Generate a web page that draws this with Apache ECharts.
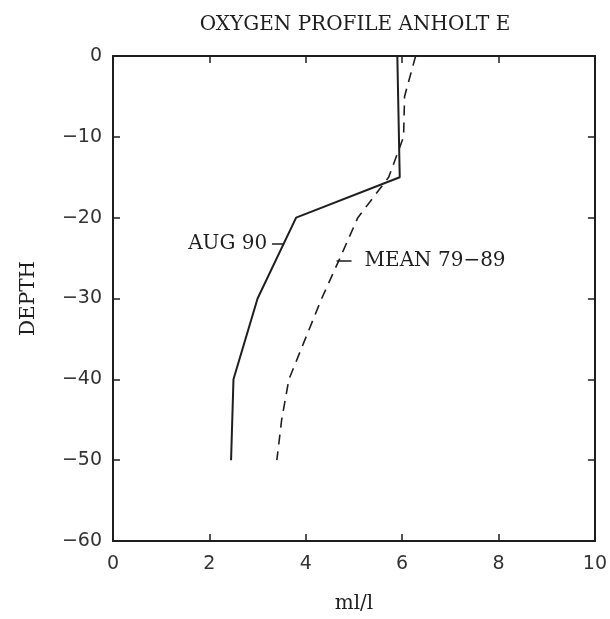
<!DOCTYPE html>
<html>
<head>
<meta charset="utf-8">
<title>Oxygen profile Anholt E</title>
<script src="https://cdn.jsdelivr.net/npm/echarts@6/dist/echarts.min.js"></script>
<style>
  html, body { margin: 0; padding: 0; background: #fff; }
  #chart { width: 610px; height: 619px; }
</style>
</head>
<body>
<div id="chart"></div>
<script>
// Oxygen (ml/l) against depth (m) at station Anholt E
const aug90Depth  = [0, -15, -20, -30, -40, -50];
const aug90Oxygen = [5.9, 5.95, 3.8, 3.0, 2.5, 2.45];

const meanDepth  = [0, -5, -10, -15, -20, -25, -30, -40, -45, -50];
const meanOxygen = [6.28, 6.05, 6.03, 5.72, 5.08, 4.71, 4.33, 3.65, 3.5, 3.4];

const xTicks = [0, 2, 4, 6, 8, 10];
const yTicks = [0, -10, -20, -30, -40, -50, -60];

// curve labels: text, anchor [oxygen, depth], leader line ends
const aug90Label = { text: 'AUG 90', at: [3.2, -23.2], leader: [[3.3, -23.2], [3.55, -23.2]] };
const meanLabel  = { text: 'MEAN 79\u221289', at: [5.22, -25.3], leader: [[4.64, -25.3], [4.95, -25.3]] };

const ink = '#1e1e1e';
const serif = 'DejaVu Serif';
const sans = 'DejaVu Sans';

function pairs(xs, ys) { return xs.map((x, i) => [x, ys[i]]); }
const fmtNum = v => (v < 0 ? '\u2212' + Math.abs(v) : String(v));

const axisLine = { show: true, onZero: false, lineStyle: { color: ink, width: 2 } };
const axisTick = { show: true, inside: true, length: 7, lineStyle: { color: ink, width: 1.5 } };

function curveLabel(lbl, side) {
  return {
    markPoint: {
      symbol: 'circle', symbolSize: 0, silent: true,
      data: [{ coord: lbl.at }],
      label: {
        show: true, position: side, distance: 0,
        formatter: lbl.text, color: ink, fontFamily: serif, fontSize: 20
      }
    },
    markLine: {
      symbol: 'none', silent: true,
      lineStyle: { color: ink, width: 1.5, type: 'solid' },
      label: { show: false },
      data: [[{ coord: lbl.leader[0] }, { coord: lbl.leader[1] }]]
    }
  };
}

const chart = echarts.init(document.getElementById('chart'), null, { renderer: 'canvas' });
chart.setOption({
  animation: false,
  backgroundColor: '#fff',
  title: {
    text: 'OXYGEN PROFILE ANHOLT E',
    left: 350, top: 10, textAlign: 'center',
    textStyle: { fontFamily: serif, fontSize: 20, fontWeight: 'normal', color: ink }
  },
  grid: { left: 113, right: 12, top: 56, bottom: 74 },
  xAxis: [
    {
      type: 'value', position: 'bottom', min: 0, max: 10, interval: 2,
      axisLine, axisTick, splitLine: { show: false },
      axisLabel: { show: true, margin: 14, fontFamily: sans, fontSize: 19, color: '#333', formatter: fmtNum,
                   customValues: xTicks },
      name: 'ml/l', nameLocation: 'middle', nameGap: 53,
      nameTextStyle: { fontFamily: serif, fontSize: 20, color: ink }
    },
    {
      type: 'value', position: 'top', min: 0, max: 10, interval: 2,
      axisLine, axisTick, splitLine: { show: false }, axisLabel: { show: false }
    }
  ],
  yAxis: [
    {
      type: 'value', position: 'left', min: -60, max: 0, interval: 10,
      axisLine, axisTick, splitLine: { show: false },
      axisLabel: { show: true, margin: 11, fontFamily: sans, fontSize: 19, color: '#333', formatter: fmtNum,
                   customValues: yTicks },
      name: 'DEPTH', nameLocation: 'middle', nameGap: 74, nameRotate: 90,
      nameTextStyle: { fontFamily: serif, fontSize: 20, color: ink }
    },
    {
      type: 'value', position: 'right', min: -60, max: 0, interval: 10,
      axisLine, axisTick, splitLine: { show: false }, axisLabel: { show: false }
    }
  ],
  series: [
    Object.assign({
      name: 'AUG 90', type: 'line', xAxisIndex: 0, yAxisIndex: 0,
      data: pairs(aug90Oxygen, aug90Depth),
      showSymbol: false, symbol: 'none',
      lineStyle: { color: ink, width: 2, type: 'solid' }
    }, curveLabel(aug90Label, 'left')),
    Object.assign({
      name: 'MEAN 79-89', type: 'line', xAxisIndex: 0, yAxisIndex: 0,
      data: pairs(meanOxygen, meanDepth),
      showSymbol: false, symbol: 'none',
      lineStyle: { color: ink, width: 1.6, type: [10, 7] }
    }, curveLabel(meanLabel, 'right'))
  ]
});
</script>
</body>
</html>
